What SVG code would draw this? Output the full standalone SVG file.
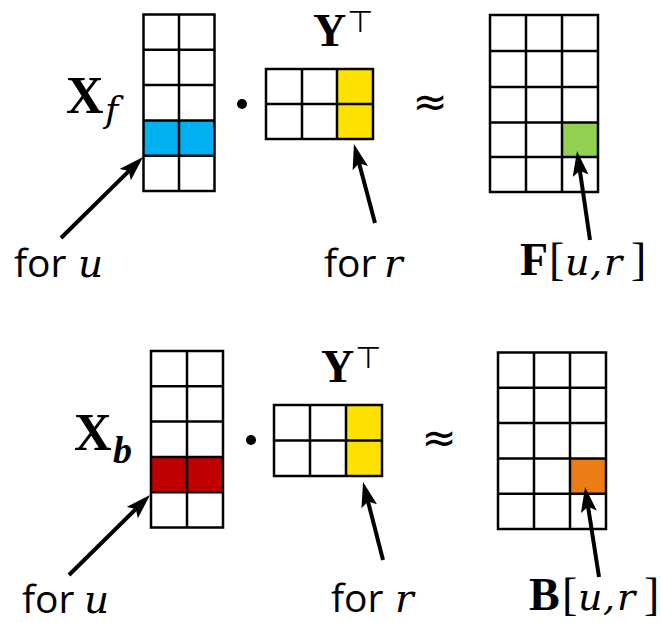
<svg xmlns="http://www.w3.org/2000/svg" width="661" height="623" viewBox="0 0 661 623">
<style>
.grid{fill:none;stroke:#000;stroke-width:2.5}
.bold{font-family:"Liberation Serif","DejaVu Serif",serif;font-weight:bold;fill:#000}
.it{font-family:"DejaVu Serif","Liberation Serif",serif;font-style:italic;fill:#000}
.rm{font-family:"Liberation Serif","DejaVu Serif",serif;fill:#000}
.sans{font-family:"Open Sans","Noto Sans",sans-serif;fill:#000}
.op{font-family:"DejaVu Sans",sans-serif;fill:#000}
.arr{stroke:#000;stroke-width:4;fill:none;marker-end:url(#ah)}
</style>
<defs>
<marker id="ah" markerUnits="userSpaceOnUse" markerWidth="26" markerHeight="16" refX="5" refY="8" orient="auto">
<path d="M0,0 L25,8 L0,16 L5,8 Z" fill="#000"/>
</marker>
</defs>
<rect width="661" height="623" fill="#fff"/>

<g id="Xf">
<rect x="143.5" y="120.4" width="71" height="35.3" fill="#00B0F0"/>
<rect class="grid" x="143.5" y="14.5" width="71" height="176.5"/>
<path class="grid" d="M179,14.5V191M143.5,49.8H214.5M143.5,85.1H214.5M143.5,120.4H214.5M143.5,155.7H214.5"/>
<text class="bold" x="66" y="113" font-size="52">X</text>
<text class="it" x="105" y="122" font-size="36">f</text>
</g>

<g id="YT1">
<rect x="337" y="69" width="36" height="70" fill="#FFE100"/>
<rect class="grid" x="266" y="69" width="107" height="70"/>
<path class="grid" d="M302,69V139M337,69V139M266,104H373"/>
<text class="bold" x="313" y="46" font-size="46">Y</text>
<text class="op" x="347" y="32" font-size="30">⊤</text>
</g>

<g id="F">
<rect x="562" y="122.5" width="36" height="34.5" fill="#92D050"/>
<rect class="grid" x="490" y="15" width="108" height="177"/>
<path class="grid" d="M526,15V192M562,15V192M490,51H598M490,87H598M490,122.5H598M490,157H598"/>
</g>

<g id="ops1">
<circle cx="242" cy="104" r="5" fill="#000"/>
<text class="op" x="430" y="116" font-size="42" text-anchor="middle">≈</text>
</g>

<g id="labels1">
<text class="sans" x="14" y="277" font-size="39">for</text>
<text class="it" x="78" y="277" font-size="39">u</text>
<text class="sans" x="324" y="277" font-size="39">for</text>
<text class="it" x="384" y="277" font-size="39">r</text>
<text class="bold" x="520" y="275" font-size="46">F</text>
<text class="rm" x="549" y="275" font-size="46">[</text>
<text class="it" x="565" y="275" font-size="38">u</text>
<text class="it" x="590" y="275" font-size="38">,</text>
<text class="it" x="604" y="275" font-size="38">r</text>
<text class="rm" x="631" y="275" font-size="46">]</text>
</g>

<g id="Xb">
<rect x="151" y="456.9" width="72" height="35.3" fill="#C00000"/>
<rect class="grid" x="151" y="351" width="72" height="176.5"/>
<path class="grid" d="M187,351V527.5M151,386.3H223M151,421.6H223M151,456.9H223M151,492.2H223"/>
<text class="bold" x="74" y="450" font-size="52">X</text>
<text class="bold" x="113" y="463" font-size="38" font-style="italic">b</text>
</g>

<g id="YT2">
<rect x="346" y="405" width="36" height="71" fill="#FFE100"/>
<rect class="grid" x="274" y="405" width="108" height="71"/>
<path class="grid" d="M310,405V476M346,405V476M274,440.5H382"/>
<text class="bold" x="321" y="382" font-size="46">Y</text>
<text class="op" x="355" y="368" font-size="30">⊤</text>
</g>

<g id="B">
<rect x="570" y="458.4" width="36" height="35.3" fill="#EC7C14"/>
<rect class="grid" x="498" y="352.5" width="108" height="176.5"/>
<path class="grid" d="M534,352.5V529M570,352.5V529M498,387.8H606M498,423.1H606M498,458.4H606M498,493.7H606"/>
</g>

<g id="ops2">
<circle cx="251" cy="440" r="5" fill="#000"/>
<text class="op" x="439" y="452" font-size="42" text-anchor="middle">≈</text>
</g>

<g id="labels2">
<text class="sans" x="22" y="613" font-size="39">for</text>
<text class="it" x="84" y="613" font-size="39">u</text>
<text class="sans" x="331" y="612" font-size="39">for</text>
<text class="it" x="395" y="612" font-size="39">r</text>
<text class="bold" x="529" y="610" font-size="46">B</text>
<text class="rm" x="562" y="610" font-size="46">[</text>
<text class="it" x="578" y="610" font-size="38">u</text>
<text class="it" x="603" y="610" font-size="38">,</text>
<text class="it" x="617" y="610" font-size="38">r</text>
<text class="rm" x="644" y="610" font-size="46">]</text>
</g>

<g id="connectors">
<line class="arr" x1="61" y1="238" x2="128.8" y2="171.1"/>
<line class="arr" x1="375" y1="223" x2="359.1" y2="163.3"/>
<line class="arr" x1="590" y1="240" x2="579.9" y2="170.8"/>
<line class="arr" x1="69" y1="575" x2="135.8" y2="509.1"/>
<line class="arr" x1="383" y1="560" x2="368" y2="501.4"/>
<line class="arr" x1="599" y1="577" x2="588.1" y2="506.8"/>
</g>
</svg>
